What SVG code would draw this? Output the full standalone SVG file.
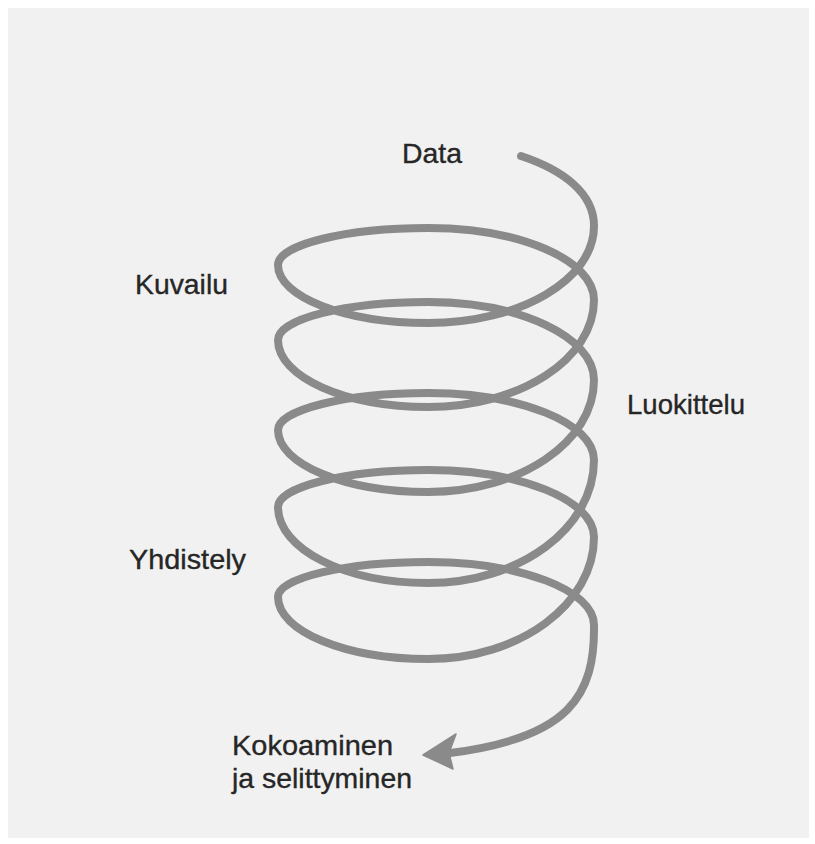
<svg xmlns="http://www.w3.org/2000/svg" width="815" height="844" viewBox="0 0 815 844">
<style>
.lbl{font-family:"Liberation Sans","Noto Sans",Arial,sans-serif;font-size:28px;fill:#262626;stroke:#262626;stroke-width:0.35;}
.coil{fill:none;stroke:#8a8a8a;stroke-width:8;stroke-linecap:round;stroke-linejoin:round;}
.head{fill:#8a8a8a;stroke:#8a8a8a;stroke-width:1.5;stroke-linejoin:round;}
</style>
<rect x="0" y="0" width="815" height="844" fill="#ffffff"/>
<rect x="8" y="8" width="801" height="830" fill="#f1f1f1"/>
<g id="connectors">
<path class="coil" d="M521,156 C563,170 594,193 594,226
C594,280 520,323 428,323 C345,323 278,297 278,265
C278,245 345,228 428,228 C520,228 594,260 594,300
C594,359 520,407 428,407 C345,407 278,377 278,340
C278,319 345,302 428,302 C520,302 594,337 594,380
C594,442 520,492 428,492 C345,492 278,464 278,430
C278,410 345,393 428,393 C520,393 594,423 594,460
C594,528 520,583 428,583 C345,583 278,549 278,507
C278,487 345,470 428,470 C520,470 594,500 594,537
C594,604 520,659 428,659 C345,659 278,631 278,597
C278,578 345,562 428,562 C520,562 594,590 594,625
C595,695 570,738 450,753"/>
<polygon class="head" points="423,755 456,734 449,753 453,769"/>
</g>
<g id="node-data"><text class="lbl" x="402" y="163" textLength="60" lengthAdjust="spacingAndGlyphs">Data</text></g>
<g id="node-kuvailu"><text class="lbl" x="135" y="294" textLength="93" lengthAdjust="spacingAndGlyphs">Kuvailu</text></g>
<g id="node-luokittelu"><text class="lbl" x="627" y="414" textLength="118" lengthAdjust="spacingAndGlyphs">Luokittelu</text></g>
<g id="node-yhdistely"><text class="lbl" x="129" y="569" textLength="117" lengthAdjust="spacingAndGlyphs">Yhdistely</text></g>
<g id="node-kokoaminen">
<text class="lbl" x="232" y="755" textLength="161" lengthAdjust="spacingAndGlyphs">Kokoaminen</text>
<text class="lbl" x="232" y="788" textLength="180" lengthAdjust="spacingAndGlyphs">ja selittyminen</text>
</g>
</svg>
